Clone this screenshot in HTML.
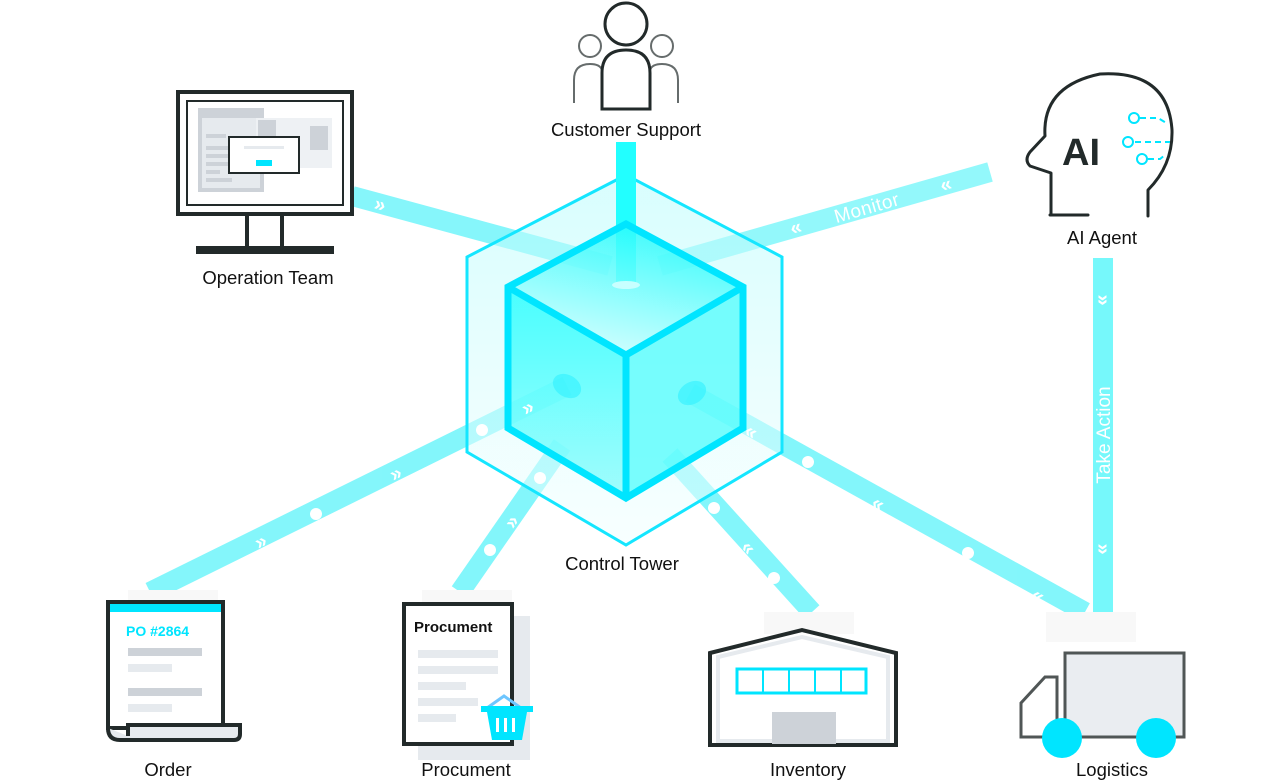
<!DOCTYPE html>
<html><head><meta charset="utf-8"><style>
html,body{margin:0;padding:0;background:#fff;}
svg{display:block;font-family:"Liberation Sans",sans-serif;}
</style></head><body>
<svg width="1280" height="780" viewBox="0 0 1280 780" xmlns="http://www.w3.org/2000/svg">
<defs>
<linearGradient id="top" x1="0" y1="1" x2="0.4" y2="0">
<stop offset="0" stop-color="#e8ffff"/><stop offset="1" stop-color="#2ffcfc"/></linearGradient>
<linearGradient id="lf" x1="0" y1="0" x2="0" y2="1">
<stop offset="0" stop-color="#22ffff"/><stop offset="1" stop-color="#8cfcfc"/></linearGradient>
<linearGradient id="hx" x1="0" y1="0" x2="0" y2="1">
<stop offset="0" stop-color="#b8fcfc"/><stop offset="1" stop-color="#f2ffff"/></linearGradient>
</defs>
<g stroke-linecap="butt" fill="none" opacity="0.95">
<line x1="352" y1="196" x2="610" y2="266" stroke="#7ff6fb" stroke-width="20"/>
<line x1="990" y1="172" x2="660" y2="266" stroke="#8df8fb" stroke-width="20"/>
<line x1="1103" y1="258" x2="1103" y2="612" stroke="#6ff8fb" stroke-width="20"/>
<line x1="567" y1="386" x2="150" y2="592" stroke="#7df6fb" stroke-width="20"/>
<line x1="562" y1="445" x2="460" y2="592" stroke="#7df6fb" stroke-width="20"/>
<line x1="670" y1="455" x2="812" y2="612" stroke="#7df6fb" stroke-width="20"/>
<line x1="690" y1="393" x2="1085" y2="612" stroke="#7df6fb" stroke-width="20"/>
</g>
<!-- hexagon -->
<polygon points="626,175 782,257 782,452 626,545 467,452 467,257" fill="url(#hx)" fill-opacity="0.55" stroke="#14e6ff" stroke-width="3"/>
<line x1="626" y1="142" x2="626" y2="285" stroke="#22ffff" stroke-width="20"/>
<!-- cube -->
<polygon points="626,224 743,287 626,355 508,287" fill="url(#top)" opacity="0.85"/>
<polygon points="508,287 626,355 626,498 508,428" fill="url(#lf)" opacity="0.8"/>
<polygon points="626,355 743,287 743,428 626,498" fill="#4ffcfc" opacity="0.75"/>
<ellipse cx="626" cy="285" rx="14" ry="4" fill="#c8ffff"/>
<polyline points="508,287 626,355 743,287" fill="none" stroke="#00e5ff" stroke-width="7"/>
<line x1="626" y1="355" x2="626" y2="498" stroke="#00e5ff" stroke-width="7"/>
<polygon points="626,224 743,287 743,428 626,498 508,428 508,287" fill="none" stroke="#00e5ff" stroke-width="7"/>
<ellipse cx="567" cy="386" rx="15" ry="11" transform="rotate(30 567 386)" fill="#30f0ff" opacity="0.6"/>
<ellipse cx="692" cy="393" rx="15" ry="11" transform="rotate(-30 692 393)" fill="#30f0ff" opacity="0.6"/>
<!-- dots -->
<g fill="#fff">
<circle cx="482" cy="430" r="6"/><circle cx="316" cy="514" r="6"/>
<circle cx="540" cy="478" r="6"/><circle cx="490" cy="550" r="6"/>
<circle cx="714" cy="508" r="6"/><circle cx="774" cy="578" r="6"/>
<circle cx="808" cy="462" r="6"/><circle cx="968" cy="553" r="6"/>
</g>
<!-- chevrons -->
<g fill="#fff" font-size="20" font-weight="bold" text-anchor="middle">
<text x="380" y="211" transform="rotate(16 380 205)">»</text>
<text x="946" y="191" transform="rotate(-16 946 185)">«</text>
<text x="796" y="234" transform="rotate(-16 796 228)">«</text>
<text x="528" y="414" transform="rotate(-27 528 408)">»</text>
<text x="396" y="480" transform="rotate(-27 396 474)">»</text>
<text x="261" y="548" transform="rotate(-27 261 542)">»</text>
<text x="512" y="528" transform="rotate(-55 512 522)">»</text>
<text x="751" y="438" transform="rotate(30 751 432)">«</text>
<text x="878" y="510" transform="rotate(30 878 504)">«</text>
<text x="1038" y="602" transform="rotate(30 1038 596)">«</text>
<text x="748" y="554" transform="rotate(48 748 548)">«</text>
<text x="1103" y="306" transform="rotate(90 1103 300)">»</text>
<text x="1103" y="555" transform="rotate(90 1103 549)">»</text>
</g>
<text x="868" y="214" fill="#fff" font-size="19" text-anchor="middle" transform="rotate(-16 868 212)" letter-spacing="0.5">Monitor</text>
<text x="1110" y="435" fill="#fff" font-size="19" text-anchor="middle" transform="rotate(-90 1110 435)">Take Action</text>
<!-- label backgrounds -->
<rect x="764" y="612" width="90" height="22" fill="#f8f8f8"/>
<rect x="1046" y="612" width="90" height="30" fill="#f8f8f8"/>
<rect x="128" y="590" width="90" height="12" fill="#f8f8f8"/>
<rect x="422" y="590" width="90" height="12" fill="#f8f8f8"/>
<!-- Customer support -->
<g fill="none">
<circle cx="590" cy="46" r="11" stroke="#666c6c" stroke-width="2"/>
<circle cx="662" cy="46" r="11" stroke="#666c6c" stroke-width="2"/>
<path d="M574 103 V80 Q574 64 590 64 Q600 64 602 70" stroke="#666c6c" stroke-width="2"/>
<path d="M678 103 V80 Q678 64 662 64 Q652 64 650 70" stroke="#666c6c" stroke-width="2"/>
<circle cx="626" cy="24" r="21" stroke="#222a2a" stroke-width="3"/>
<path d="M602 109 V73 Q602 50 626 50 Q650 50 650 73 V109 Z" stroke="#222a2a" stroke-width="3"/>
</g>
<!-- Monitor -->
<rect x="178" y="92" width="174" height="122" fill="#fff" stroke="#222a2a" stroke-width="4"/>
<rect x="187" y="101" width="156" height="104" fill="#fff" stroke="#222a2a" stroke-width="2"/>
<rect x="198" y="108" width="66" height="84" fill="#cdd2d8"/>
<rect x="202" y="118" width="58" height="70" fill="#e6eaee"/>
<rect x="256" y="118" width="76" height="50" fill="#eef1f4"/>
<rect x="258" y="120" width="18" height="22" fill="#cdd2d8"/>
<rect x="310" y="126" width="18" height="24" fill="#cdd2d8"/>
<g fill="#cdd2d8"><rect x="206" y="134" width="20" height="4"/><rect x="206" y="146" width="24" height="4"/><rect x="206" y="154" width="24" height="4"/><rect x="206" y="162" width="24" height="4"/><rect x="206" y="170" width="14" height="4"/><rect x="206" y="178" width="26" height="4"/></g>
<rect x="229" y="137" width="70" height="36" fill="#fff" stroke="#222a2a" stroke-width="2"/>
<rect x="256" y="160" width="16" height="6" fill="#00e5ff"/>
<rect x="244" y="146" width="40" height="3" fill="#e6eaee"/>
<rect x="245" y="214" width="4" height="34" fill="#222a2a"/>
<rect x="280" y="214" width="4" height="34" fill="#222a2a"/>
<rect x="196" y="246" width="138" height="8" fill="#222a2a"/>
<!-- AI head -->
<g fill="none" stroke="#222a2a" stroke-width="3" stroke-linecap="round" stroke-linejoin="round">
<path d="M1050 215 H1088 M1051 215 V173 L1030 166 Q1024 160 1030 152 L1045 136 Q1042 86 1100 74 Q1168 70 1172 130 Q1173 165 1148 190 V216"/>
</g>
<text x="1062" y="165" font-size="38" font-weight="bold" fill="#222a2a">AI</text>
<g stroke="#00e5ff" stroke-width="2" fill="#fff">
<path d="M1140 118 H1158 L1168 124 M1135 142 H1170 M1148 159 H1160 L1165 155" stroke-dasharray="6 4" fill="none"/>
<circle cx="1134" cy="118" r="5"/><circle cx="1128" cy="142" r="5"/><circle cx="1142" cy="159" r="5"/>
</g>
<!-- Order -->
<rect x="108" y="602" width="115" height="126" fill="#fff" stroke="#222a2a" stroke-width="4"/>
<rect x="110" y="604" width="111" height="8" fill="#00e5ff"/>
<path d="M108 728 Q108 740 120 740 H234 Q240 740 240 734 V725 H128 V736" fill="#e6eaee" stroke="#222a2a" stroke-width="4"/>
<text x="126" y="636" font-size="14" font-weight="bold" fill="#00e5ff">PO #2864</text>
<rect x="128" y="648" width="74" height="8" fill="#cdd2d8"/><rect x="128" y="664" width="44" height="8" fill="#e6eaee"/>
<rect x="128" y="688" width="74" height="8" fill="#cdd2d8"/><rect x="128" y="704" width="44" height="8" fill="#e6eaee"/>
<!-- Procurement -->
<rect x="418" y="616" width="112" height="144" fill="#e6eaee"/>
<rect x="404" y="604" width="108" height="140" fill="#fff" stroke="#222a2a" stroke-width="4"/>
<text x="414" y="632" font-size="15" font-weight="bold" fill="#111">Procument</text>
<rect x="418" y="650" width="80" height="8" fill="#e6eaee"/><rect x="418" y="666" width="80" height="8" fill="#e6eaee"/>
<rect x="418" y="682" width="48" height="8" fill="#e6eaee"/><rect x="418" y="698" width="60" height="8" fill="#e6eaee"/>
<rect x="418" y="714" width="38" height="8" fill="#e6eaee"/>
<path d="M487 708 L504 696 L521 708" stroke="#6ec6ff" stroke-width="3" fill="none"/>
<rect x="481" y="706" width="52" height="6" fill="#00e5ff"/>
<path d="M487 712 H527 L522 740 H492 Z" fill="#00e5ff"/>
<g fill="#fff"><rect x="496" y="718" width="3" height="14"/><rect x="504" y="718" width="3" height="14"/><rect x="512" y="718" width="3" height="14"/></g>
<!-- Inventory -->
<path d="M710 653 L802 630 L896 653 V745 H710 Z" fill="#fff" stroke="#222a2a" stroke-width="4"/>
<path d="M718 657 L802 637 L888 657 V741 H718 Z" fill="none" stroke="#e6eaee" stroke-width="4"/>
<rect x="772" y="712" width="64" height="32" fill="#cdd2d8"/>
<rect x="737" y="669" width="129" height="24" fill="#fff" stroke="#00e5ff" stroke-width="3"/>
<g stroke="#00e5ff" stroke-width="2"><line x1="763" y1="669" x2="763" y2="693"/><line x1="789" y1="669" x2="789" y2="693"/><line x1="815" y1="669" x2="815" y2="693"/><line x1="841" y1="669" x2="841" y2="693"/></g>
<!-- Logistics -->
<rect x="1065" y="653" width="119" height="84" fill="#eaedf1" stroke="#505656" stroke-width="3"/>
<path d="M1057 737 H1021 V703 L1045 677 H1057 Z" fill="#fff" stroke="#505656" stroke-width="3"/>
<circle cx="1062" cy="738" r="20" fill="#00e5ff"/><circle cx="1156" cy="738" r="20" fill="#00e5ff"/>
<!-- labels -->
<g font-size="18.5" fill="#111" text-anchor="middle">
<text x="626" y="136">Customer Support</text>
<text x="268" y="284">Operation Team</text>
<text x="1102" y="244">AI Agent</text>
<text x="622" y="570">Control Tower</text>
<text x="168" y="776">Order</text>
<text x="466" y="776">Procument</text>
<text x="808" y="776">Inventory</text>
<text x="1112" y="776">Logistics</text>
</g>
</svg>
</body></html>
